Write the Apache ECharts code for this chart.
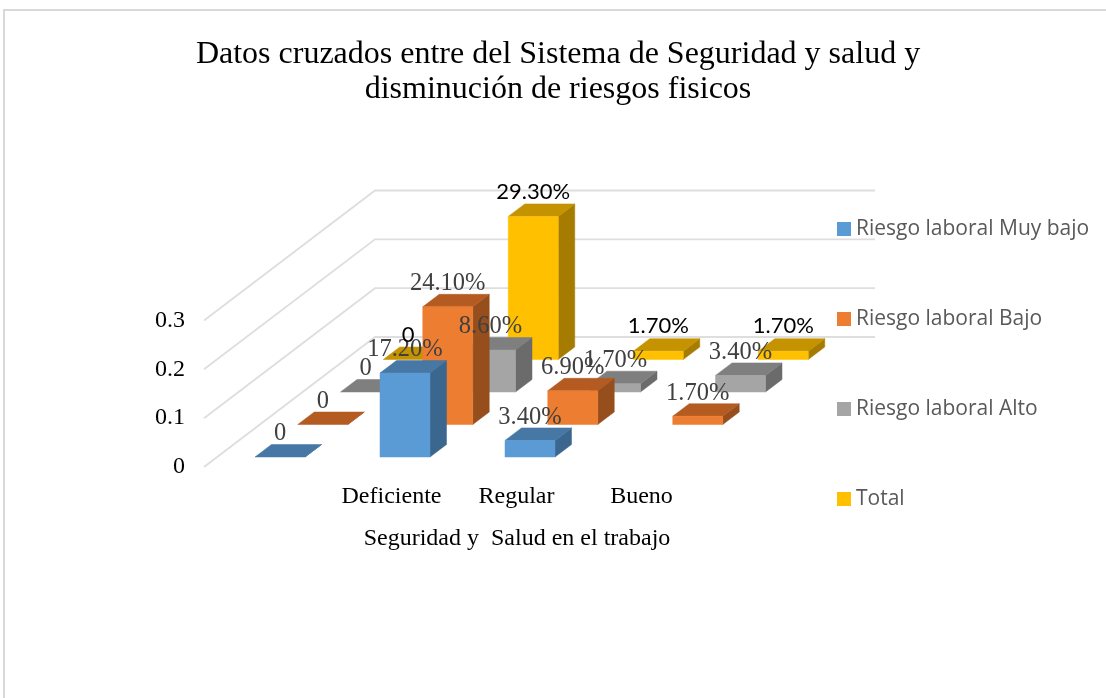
<!DOCTYPE html>
<html>
<head>
<meta charset="utf-8">
<style>html,body{margin:0;padding:0;background:#fff}#c{width:1106px;height:698px}</style>
<script src="https://cdn.jsdelivr.net/npm/echarts@6/dist/echarts.min.js"></script>
</head>
<body>
<div id="c"></div>
<script>
const titleText = 'Datos cruzados entre del Sistema de Seguridad y salud y\ndisminución de riesgos fisicos';
const axisTitle = 'Seguridad y  Salud en el trabajo';
const categories = ['', 'Deficiente', 'Regular', 'Bueno'];
const tickValues = [0, 0.1, 0.2, 0.3];
const seriesNames = ['Riesgo laboral Muy bajo', 'Riesgo laboral Bajo', 'Riesgo laboral Alto', 'Total'];
const muyBajo = [0, 0.172, 0.034, null];
const bajo = [0, 0.241, 0.069, 0.017];
const alto = [0, 0.086, 0.017, 0.034];
const total = [0, 0.293, 0.017, 0.017];
const seriesValues = [muyBajo, bajo, alto, total];

const frontColors = ['#5B9BD5', '#ED7D31', '#A5A5A5', '#FFC000'];
const topColors = ['#4777A4', '#B45B22', '#7F7F7F', '#C59300'];
const sideColors = ['#3B668E', '#964F1C', '#6B6B6B', '#A67C00'];
const labelFonts = ['400 24.5px "Liberation Serif"', '400 24.5px "Liberation Serif"', '400 24.5px "Liberation Serif"', '400 22px Lato'];
const labelColors = ['#404040', '#404040', '#404040', '#000000'];
const labelGaps = [23, 23, 23, 25];

// oblique projection of the floor depth, in pixels
const DEPTH = { x: 171, y: -130 };
const ROW = { x: DEPTH.x / 4, y: -32.5 };
const START = { x: 13.5, y: -10 };
const BAR = { x: 16.5, y: -12.5 };
const BAR_RATIO = 0.4;

function fmt(v) { return v === 0 ? '0' : (v * 100).toFixed(2) + '%'; }

function barRenderer(i) {
  return function (params, api) {
    const v = api.value(1);
    if (v === null || v === undefined || isNaN(v)) return;
    const cat = api.value(0);
    const base = api.coord([cat, 0]);
    const top = api.coord([cat, v]);
    const w = api.size([1, 0])[0] * BAR_RATIO;
    const ox = START.x + i * ROW.x;
    const oy = START.y + i * ROW.y;
    const l = base[0] - w / 2 + ox, r = l + w;
    const b = base[1] + oy, t = top[1] + oy;
    const z = 10 - i;
    const children = [];
    const poly = (points, fill) => children.push({
      type: 'polygon', z2: z,
      shape: { points: points },
      style: { fill: fill, stroke: fill, lineWidth: 0.5 }
    });
    poly([[r, b], [r + BAR.x, b + BAR.y], [r + BAR.x, t + BAR.y], [r, t]], sideColors[i]);
    poly([[l, t], [r, t], [r + BAR.x, t + BAR.y], [l + BAR.x, t + BAR.y]], topColors[i]);
    if (b - t > 0.5) poly([[l, b], [r, b], [r, t], [l, t]], frontColors[i]);
    children.push({
      type: 'text', z2: 100,
      x: (l + r) / 2, y: t - labelGaps[i],
      style: { text: fmt(v), font: labelFonts[i], fill: labelColors[i], align: 'center', verticalAlign: 'middle' }
    });
    return { type: 'group', children: children };
  };
}

function wallRenderer(params, api) {
  const p = api.coord([0, api.value(0)]);
  const cs = params.coordSys;
  return {
    type: 'polyline', z2: 0,
    shape: { points: [[cs.x, p[1]], [cs.x + DEPTH.x, p[1] + DEPTH.y], [cs.x + cs.width + DEPTH.x, p[1] + DEPTH.y]] },
    style: { fill: null, stroke: '#DEDEDE', lineWidth: 1.8 }
  };
}

const series = [{
  type: 'custom', name: 'walls', silent: true,
  coordinateSystem: 'cartesian2d',
  renderItem: wallRenderer,
  encode: { y: 0 },
  data: tickValues.map(v => [v])
}];
seriesNames.forEach((name, i) => {
  series.push({
    type: 'custom', name: name,
    coordinateSystem: 'cartesian2d',
    renderItem: barRenderer(i),
    encode: { x: 0, y: 1 },
    itemStyle: { color: frontColors[i] },
    data: seriesValues[i].map((v, c) => [c, v === null ? '-' : v])
  });
});

const chart = echarts.init(document.getElementById('c'), null, { renderer: 'canvas' });
chart.setOption({
  animation: false,
  backgroundColor: '#fff',
  title: {
    text: titleText, left: 553, top: 32, textAlign: 'center',
    textStyle: { fontFamily: 'Liberation Serif', fontWeight: 'normal', fontSize: 32, color: '#000', lineHeight: 35 }
  },
  legend: {
    data: seriesNames, orient: 'vertical', left: 832, top: 211,
    icon: 'rect', itemWidth: 14, itemHeight: 14, itemGap: 64, selectedMode: false,
    textStyle: { fontFamily: 'Open Sans', fontSize: 21, color: '#595959', lineHeight: 26 }
  },
  grid: { left: 204, top: 320.5, width: 500, height: 146.5 },
  xAxis: {
    type: 'category', data: categories,
    axisLine: { show: false }, axisTick: { show: false }, splitLine: { show: false },
    axisLabel: { interval: 0, margin: 18, fontFamily: 'Liberation Serif', fontSize: 24, color: '#000' },
    name: axisTitle, nameLocation: 'middle', nameGap: 60,
    nameTextStyle: { fontFamily: 'Liberation Serif', fontSize: 24, color: '#000', padding: [0, 0, 0, 126] }
  },
  yAxis: {
    type: 'value', min: 0, max: 0.3, interval: 0.1,
    axisLine: { show: false }, axisTick: { show: false }, splitLine: { show: false },
    axisLabel: { margin: 19, padding: [3, 0, 0, 0], fontFamily: 'Liberation Serif', fontSize: 24, color: '#000' }
  },
  graphic: [{
    type: 'rect', silent: true, z: -1,
    shape: { x: 4, y: 10, width: 1110, height: 700 },
    style: { fill: null, stroke: '#D9D9D9', lineWidth: 2 }
  }],
  series: series
});
</script>
</body>
</html>
